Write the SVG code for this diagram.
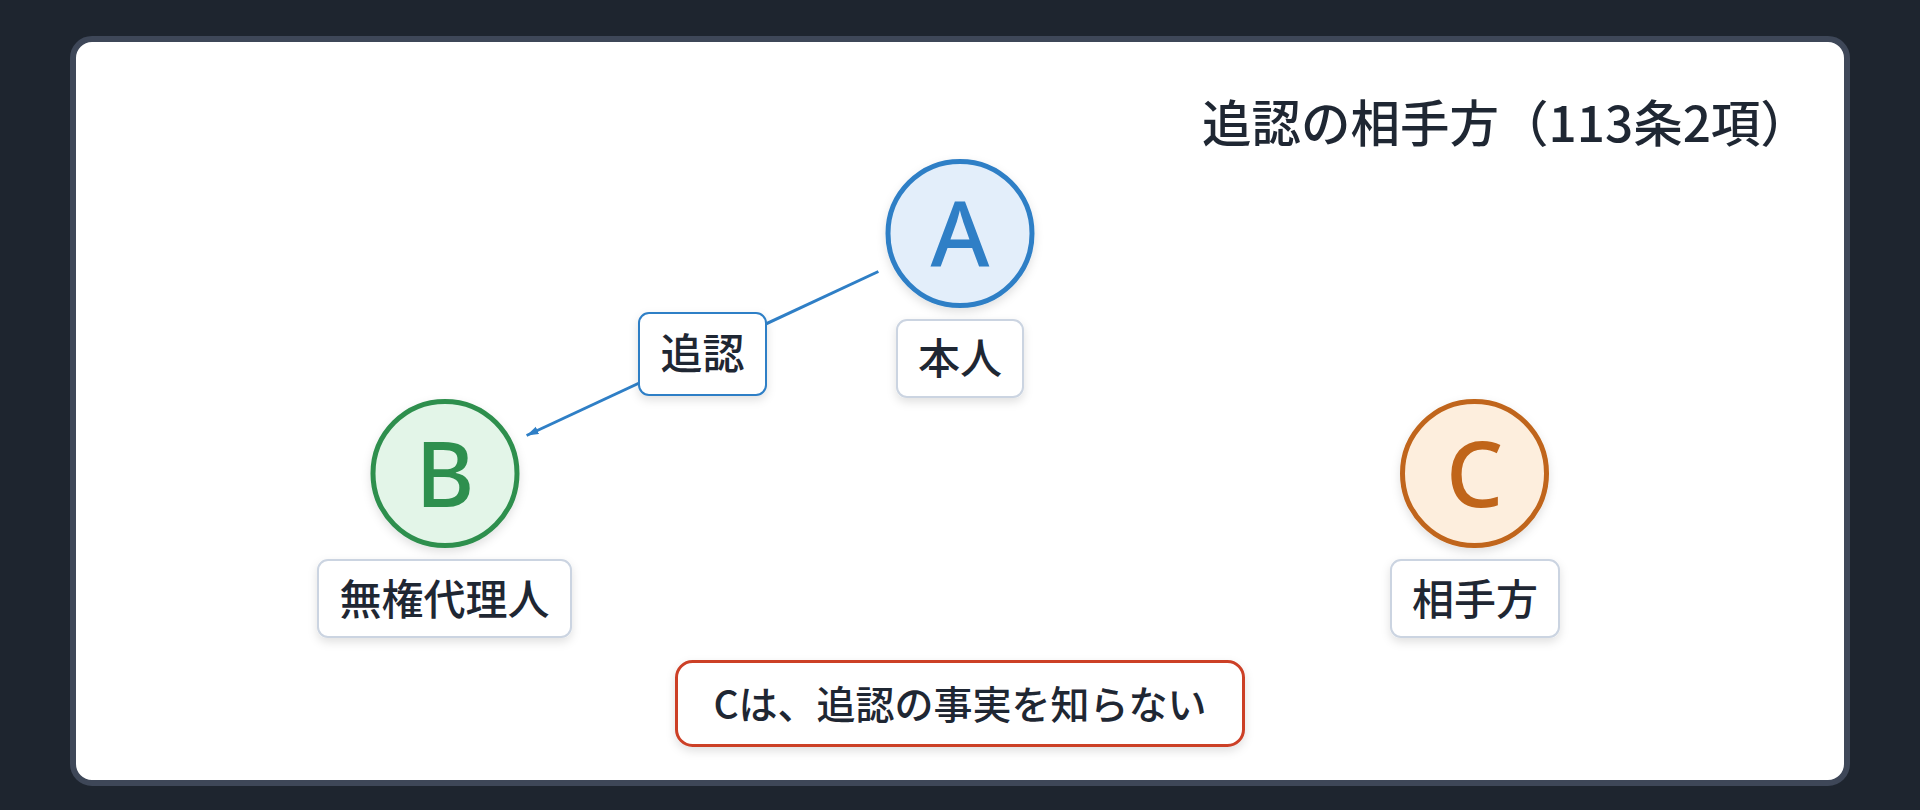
<svg xmlns="http://www.w3.org/2000/svg" width="1920" height="810" viewBox="0 0 1920 810">
  <defs>
    <style>
      .t { font-family: "Noto Sans CJK JP", "Noto Sans", sans-serif; fill: #1f2733; font-weight: 500; }
      .lbl { font-size: 42px; text-anchor: middle; }
      .letter { font-family: "Noto Sans", "Liberation Sans", sans-serif; font-size: 90px; font-weight: 500; text-anchor: middle; }
      .lblbox { fill: #ffffff; stroke: #cbd4e1; stroke-width: 2; }
    </style>
    <filter id="sh" x="-30%" y="-30%" width="160%" height="160%">
      <feDropShadow dx="0" dy="4" stdDeviation="5" flood-color="#000000" flood-opacity="0.12"/>
    </filter>
    <marker id="arr" markerUnits="userSpaceOnUse" markerWidth="14" markerHeight="10" refX="12" refY="4" orient="auto">
      <path d="M0,0 L12,4 L0,8 z" fill="#2f7fc6"/>
    </marker>
  </defs>

  <rect x="0" y="0" width="1920" height="810" fill="#1e252f"/>
  <rect x="73" y="39" width="1774" height="744" rx="19" fill="#ffffff" stroke="#3e4758" stroke-width="6"/>

  <text class="t" x="1202" y="142" font-size="49.5" font-weight="600">追認の相手方（113条2項）</text>

  <g id="connectors">
    <line x1="878.4" y1="271.5" x2="526.6" y2="435.5" stroke="#2f7fc6" stroke-width="3" marker-end="url(#arr)"/>
    <g id="edge-label">
      <rect x="639" y="313" width="127" height="82" rx="10" fill="#ffffff" stroke="#2f7fc6" stroke-width="2" filter="url(#sh)"/>
      <text class="t lbl" x="702.5" y="369">追認</text>
    </g>
  </g>

  <g id="node-A">
    <circle cx="960" cy="233.5" r="72" fill="#e3eefa" stroke="#2f7fc6" stroke-width="5" filter="url(#sh)"/>
    <text class="letter" x="960" y="266.5" fill="#2f7fc6">A</text>
    <rect class="lblbox" x="897" y="320" width="126" height="77" rx="10" filter="url(#sh)"/>
    <text class="t lbl" x="960" y="374">本人</text>
  </g>

  <g id="node-B">
    <circle cx="445" cy="473.5" r="72" fill="#e3f5e8" stroke="#2e8f4e" stroke-width="5" filter="url(#sh)"/>
    <text class="letter" x="445" y="506.5" fill="#2e8f4e">B</text>
    <rect class="lblbox" x="318" y="560" width="253" height="77" rx="10" filter="url(#sh)"/>
    <text class="t lbl" x="444.5" y="615">無権代理人</text>
  </g>

  <g id="node-C">
    <circle cx="1474.5" cy="473.5" r="72" fill="#fdeedd" stroke="#c0651a" stroke-width="5" filter="url(#sh)"/>
    <text class="letter" x="1474.5" y="506.5" fill="#c0651a">C</text>
    <rect class="lblbox" x="1391" y="560" width="168" height="77" rx="10" filter="url(#sh)"/>
    <text class="t lbl" x="1475" y="615">相手方</text>
  </g>

  <g id="note">
    <rect x="676.5" y="661.5" width="567" height="84" rx="16" fill="#ffffff" stroke="#cc4028" stroke-width="3" filter="url(#sh)"/>
    <text class="t" x="960" y="719" font-size="39" text-anchor="middle">Cは、追認の事実を知らない</text>
  </g>
</svg>
